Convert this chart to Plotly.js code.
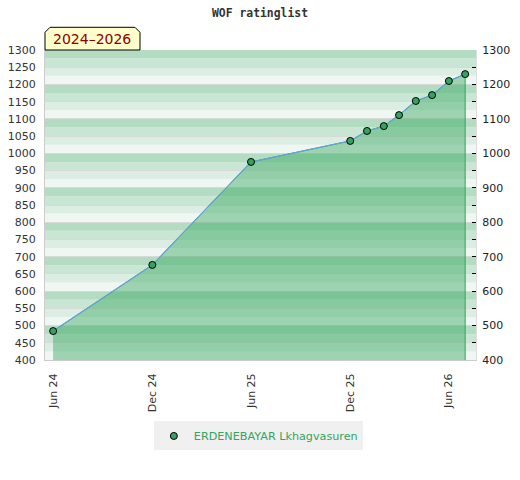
<!DOCTYPE html>
<html>
<head>
<meta charset="utf-8">
<script src="https://cdn.plot.ly/plotly-3.0.1.min.js"></script>
<style>html,body{margin:0;padding:0;background:#fff;}#chart{width:520px;height:480px;}</style>
</head>
<body>
<div id="chart"></div>
<script>
// ---- data ----
const chartTitle = 'WOF ratinglist';
const periodLabel = '2024\u20132026';
const playerName = 'ERDENEBAYAR Lkhagvasuren';
const dates = ['2024-06-01','2024-12-01','2025-06-01','2025-12-01','2026-01-01','2026-02-01','2026-03-01','2026-04-01','2026-05-01','2026-06-01','2026-07-01'];
const ratings = [484, 676, 975, 1036, 1065, 1079, 1111, 1152, 1169, 1210, 1230];
const xTickVals = ['2024-06-01','2024-12-01','2025-06-01','2025-12-01','2026-06-01'];
const xTickText = ['Jun 24','Dec 24','Jun 25','Dec 25','Jun 26'];
const xRange = ['2024-05-17','2026-07-21'];
const yRange = [400, 1300];

// ---- styling ----
const stripeColors = ['#f0f7f2','#dcede3','#c8e6d3','#b3dcc3']; // bands upward within each 100
const fontFam = 'DejaVu Sans, Verdana, sans-serif';
const green = '#33a35f';

// background stripes
const shapes = [];
for (let v = yRange[0]; v < yRange[1]; v += 25) {
  const idx = ((v % 100) / 25);
  shapes.push({type:'rect', xref:'paper', yref:'y', x0:0, x1:1, y0:v, y1:v+25,
    fillcolor: stripeColors[idx], line:{width:0}, layer:'below'});
}
// period label box with chamfered top corners
const bx1 = 0.2204, by0 = 1.0, by1 = 1.0732, cx = 0.0116, cy = 0.0161;
shapes.push({type:'path', xref:'paper', yref:'paper',
  path:`M0,${by0} L0,${by1-cy} L${cx},${by1} L${bx1-cx},${by1} L${bx1},${by1-cy} L${bx1},${by0} Z`,
  fillcolor:'#ffffcc', line:{color:'#000', width:1}, layer:'above'});

// right axis tick arrays
const rTickVals = [], rTickText = [];
for (let v = yRange[0]; v <= yRange[1]; v += 50) { rTickVals.push(v); rTickText.push(v % 100 === 0 ? String(v) : ''); }

// area polygon
const floorVal = yRange[0] - 100;
const areaX = dates.concat([dates[dates.length-1], dates[0]]);
const areaY = ratings.concat([floorVal, floorVal]);

const traces = [
  {x: areaX, y: areaY, type:'scatter', mode:'lines', fill:'toself',
   fillcolor:'rgba(53,166,94,0.44)', line:{color:green, width:1}, showlegend:false, hoverinfo:'skip'},
  {x: dates, y: ratings, type:'scatter', mode:'lines', line:{color:'#66a3d9', width:1.2}, showlegend:false},
  {x: dates, y: ratings, type:'scatter', mode:'markers', name: playerName, yaxis:'y2',
   marker:{color:green, size:7, line:{color:'#000', width:1}}}
];

const tickFont = {family: fontFam, size: 11, color: '#333'};
const layout = {
  width: 520, height: 480,
  margin: {l:45, r:44, t:50, b:120},
  paper_bgcolor:'#fff', plot_bgcolor:'#fff',
  title: {text: chartTitle, x:0.5, xref:'container', y: 0.973, yref:'container', yanchor:'middle',
    font:{family:'DejaVu Sans Mono, monospace', size:11.4, color:'#333', weight:'bold'}},
  xaxis: {type:'date', range: xRange, tickmode:'array', tickvals: xTickVals, ticktext: xTickText,
    tickangle:-90, showgrid:false, zeroline:false, showline:true, linecolor:'#cccccc', linewidth:1,
    ticks:'outside', ticklen:8, tickcolor:'rgba(0,0,0,0)', tickfont: tickFont, fixedrange:true},
  yaxis: {range: yRange, tickmode:'linear', tick0: yRange[0], dtick:50, showgrid:true, gridcolor:'#d9d9d9',
    gridwidth:1, zeroline:false, showline:true, linecolor:'#cccccc', linewidth:1,
    ticks:'outside', ticklen:6, tickcolor:'rgba(0,0,0,0)', tickfont: tickFont, fixedrange:true},
  yaxis2: {range: yRange, overlaying:'y', side:'right', tickmode:'array', tickvals: rTickVals, ticktext: rTickText,
    showgrid:false, zeroline:false, showline:true, linecolor:'#dddddd', ticks:'inside', ticklen:4,
    tickcolor:'#000', tickwidth:1, tickfont:{family: fontFam, size: 11, color:'#222'}, ticklabelstandoff:3, fixedrange:true},
  shapes: shapes,
  annotations: [{text: periodLabel, xref:'paper', yref:'paper', x:0.110, y:1.0355, xanchor:'center', yanchor:'middle',
    showarrow:false, font:{family: fontFam, size:14, color:'#8b0000'}}],
  showlegend: true,
  legend: {orientation:'h', x:0.495, xanchor:'center', xref:'paper', y:-0.245, yanchor:'middle', yref:'paper',
    bgcolor:'#f0f0f0', font:{family: fontFam, size:11.2, color:'#34a55e'}, itemwidth:30}
};

Plotly.newPlot('chart', traces, layout, {displayModeBar:false, staticPlot:true});
</script>
</body>
</html>
